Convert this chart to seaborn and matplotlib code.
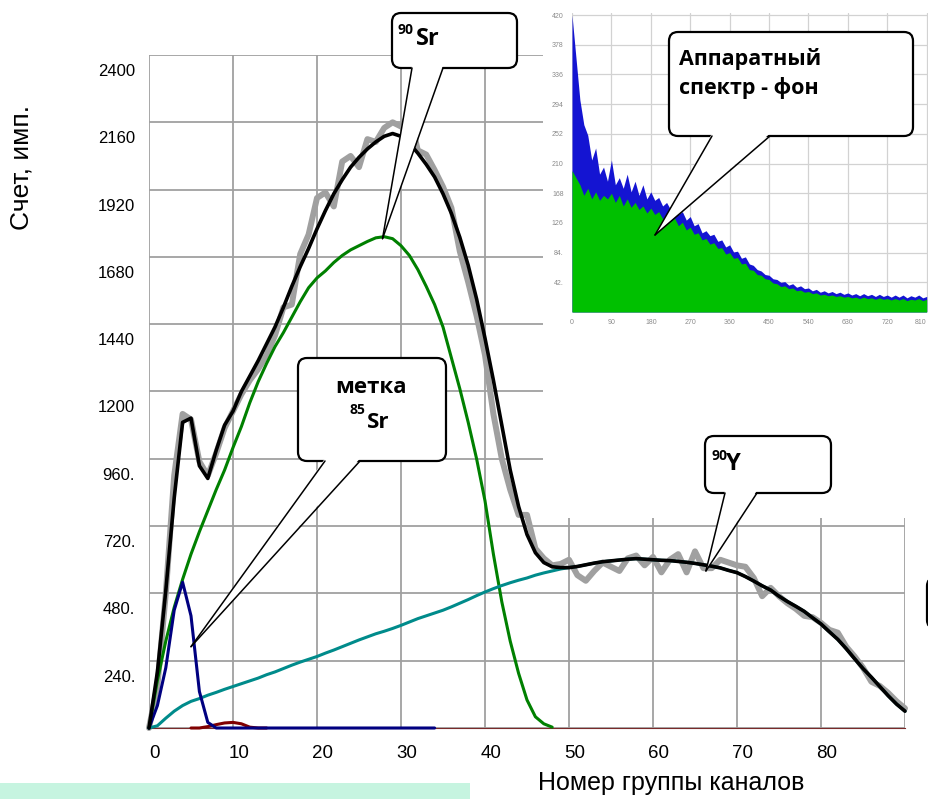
import matplotlib
matplotlib.use("Agg")
import matplotlib.pyplot as plt
import matplotlib.transforms as mtransforms
from matplotlib.patches import FancyBboxPatch, Rectangle, Polygon
from matplotlib.lines import Line2D
import seaborn as sns

W, H = 929, 799

# ---------------- data ----------------
channels = list(range(91))
measured = [0, 150, 480, 900, 1120, 1100, 950, 900, 980, 1070,
            1130, 1190, 1240, 1280, 1330, 1400, 1500, 1510, 1690, 1760,
            1890, 1910, 1860, 2020, 2040, 2000, 2100, 2090, 2140, 2160,
            2145, 2190, 2060, 2045, 1990, 1930, 1855, 1700, 1590, 1470,
            1330, 1120, 960, 850, 760, 760, 640, 605, 580, 585,
            600, 545, 525, 560, 590, 575, 560, 605, 615, 580,
            610, 555, 600, 620, 555, 630, 570, 570, 600, 590,
            580, 575, 535, 470, 500, 470, 445, 425, 400, 395,
            375, 350, 340, 290, 255, 215, 165, 150, 125, 95, 70]
fit_total = [0, 200, 490, 820, 1090, 1105, 935, 890, 990, 1080,
             1130, 1200, 1255, 1310, 1370, 1430, 1500, 1575, 1645, 1710,
             1780, 1845, 1905, 1955, 2000, 2035, 2065, 2090, 2110, 2120,
             2110, 2085, 2050, 2010, 1965, 1905, 1835, 1750, 1650, 1530,
             1390, 1240, 1080, 920, 790, 690, 625, 590, 575, 572,
             572, 576, 582, 588, 593, 596, 599, 602, 604, 602,
             600, 598, 597, 594, 591, 587, 582, 577, 571, 562,
             554, 540, 524, 507, 492, 470, 451, 434, 416, 393,
             371, 343, 316, 283, 247, 212, 181, 148, 115, 85, 60]
sr90_channels = list(range(49))
sr90 = [0, 170, 310, 430, 530, 620, 700, 775, 850, 920,
        1000, 1075, 1160, 1235, 1300, 1360, 1410, 1465, 1520, 1570,
        1605, 1630, 1660, 1685, 1705, 1720, 1735, 1748, 1752, 1745,
        1720, 1685, 1635, 1575, 1510, 1430, 1320, 1210, 1090, 960,
        810, 620, 450, 310, 195, 100, 40, 15, 3]
y90 = [0, 8, 35, 60, 80, 95, 105, 117, 127, 138,
       148, 158, 168, 178, 190, 200, 212, 224, 235, 245,
       255, 267, 278, 290, 302, 314, 325, 336, 345, 355,
       366, 378, 390, 400, 410, 420, 432, 445, 458, 472,
       485, 497, 508, 518, 527, 535, 545, 553, 560, 567,
       572, 576, 582, 588, 593, 596, 599, 602, 604, 602,
       600, 598, 597, 594, 591, 587, 582, 577, 571, 562,
       554, 540, 524, 507, 492, 470, 451, 434, 416, 393,
       371, 343, 316, 283, 247, 212, 181, 148, 115, 85, 60]
sr85_channels = list(range(35))
sr85 = [0, 80, 215, 420, 520, 400, 130, 20, 0, 0,
        0, 0, 0, 0, 0, 0, 0, 0, 0, 0,
        0, 0, 0, 0, 0, 0, 0, 0, 0, 0,
        0, 0, 0, 0, 0]
other_channels = list(range(5, 15))
other = [0, 0, 5, 12, 18, 20, 15, 3, 0, 0]

x_ticks = list(range(0, 91, 10))
x_tick_labels = ["0", "10", "20", "30", "40", "50", "60", "70", "80", ""]
y_ticks = list(range(0, 2401, 240))
y_tick_labels = ["", "240.", "480.", "720.", "960.", "1200", "1440",
                 "1680", "1920", "2160", "2400"]

# inset: hardware background spectrum
bg_channels = list(range(0, 811, 9))
bg_total = [420, 360, 300, 265, 250, 215, 232, 195, 205, 185,
            215, 180, 190, 175, 195, 170, 185, 165, 180, 160,
            170, 158, 162, 150, 155, 145, 148, 138, 142, 130,
            135, 122, 125, 112, 115, 108, 110, 100, 102, 92,
            95, 85, 86, 76, 78, 68, 66, 60, 58, 53,
            52, 47, 46, 42, 43, 38, 40, 35, 37, 33,
            34, 30, 32, 28, 30, 27, 29, 26, 28, 25,
            27, 24, 26, 23, 26, 23, 25, 22, 25, 22,
            24, 21, 24, 21, 24, 20, 23, 21, 24, 20, 22]
bg_net = [200, 190, 180, 165, 175, 160, 170, 158, 165, 160,
          168, 155, 165, 150, 160, 148, 155, 145, 150, 140,
          147, 138, 142, 132, 138, 128, 133, 122, 127, 116,
          120, 110, 112, 102, 104, 96, 98, 90, 91, 82,
          84, 76, 77, 68, 69, 60, 59, 53, 52, 47,
          46, 41, 40, 36, 37, 33, 34, 30, 31, 28,
          29, 26, 27, 24, 25, 23, 24, 22, 23, 21,
          22, 20, 21, 19, 21, 19, 20, 18, 20, 18,
          19, 17, 19, 17, 19, 16, 18, 17, 19, 16, 18]
bg_x_ticks = list(range(0, 811, 90))
bg_x_labels = ["0", "90", "180", "270", "360", "450", "540", "630", "720", "810"]
bg_y_ticks = list(range(42, 421, 42))
bg_y_labels = ["42.", "84.", "126", "168", "210", "252", "294", "336", "378", "420"]

# ---------------- style ----------------
sns.set_theme(style="white")
plt.rcParams['font.family'] = ['Liberation Sans', 'DejaVu Sans']
CALLOUT_FONT = ['Open Sans', 'DejaVu Sans']

fig = plt.figure(figsize=(W / 100, H / 100), dpi=100)
fig.patch.set_facecolor('white')
ident = mtransforms.IdentityTransform()

# main axes
ax = fig.add_axes([149 / W, 1 - 728 / H, (905 - 149) / W, (728 - 55) / H], zorder=0)
ax.set_facecolor('white')

sns.lineplot(x=channels, y=measured, ax=ax, color='#A0A0A0', lw=4.3,
             solid_joinstyle='round', clip_on=False, zorder=2)
sns.lineplot(x=sr90_channels, y=sr90, ax=ax, color='#008000', lw=2.2, clip_on=False, zorder=3)
sns.lineplot(x=channels, y=y90, ax=ax, color='#008B8B', lw=2.2, clip_on=False, zorder=3)
sns.lineplot(x=other_channels, y=other, ax=ax, color='#800000', lw=2.2, clip_on=False, zorder=3)
sns.lineplot(x=sr85_channels, y=sr85, ax=ax, color='#000080', lw=2.2, clip_on=False, zorder=4)
sns.lineplot(x=channels, y=fit_total, ax=ax, color='black', lw=2.6,
             solid_joinstyle='round', clip_on=False, zorder=5)

ax.set_xlim(0, 90)
ax.set_ylim(0, 2400)
ax.set_xticks(x_ticks)
ax.set_xticklabels(x_tick_labels)
ax.set_yticks(y_ticks)
ax.set_yticklabels(y_tick_labels)
ax.grid(True, color='#A0A0A0', lw=1.3)
ax.set_axisbelow(True)
for name, s in ax.spines.items():
    s.set_visible(name == 'bottom')
ax.spines['bottom'].set_color('#7A2A2A')
ax.spines['bottom'].set_linewidth(0.8)
ax.spines['bottom'].set_zorder(2.5)
ax.tick_params(axis='both', length=0)
ax.tick_params(axis='y', labelsize=12, pad=10, labelcolor='black')
ax.tick_params(axis='x', labelsize=13.5, pad=12, labelcolor='black')
for lbl in ax.get_yticklabels():
    lbl.set_transform(lbl.get_transform() +
                      mtransforms.ScaledTranslation(0, -15 / 100, fig.dpi_scale_trans))
for lbl in ax.get_xticklabels():
    lbl.set_transform(lbl.get_transform() +
                      mtransforms.ScaledTranslation(6 / 100, 0, fig.dpi_scale_trans))

ax.set_xlabel("Номер группы каналов", fontsize=18, color='black', va='center')
ax.xaxis.set_label_coords((671 - 149) / 756, (728 - 783) / 673)
ax.set_ylabel("Счет, имп.", fontsize=19, color='black', va='center', rotation=90)
ax.yaxis.set_label_coords((22 - 149) / 756, (728 - 168) / 673)

# white area behind the inset picture
fig.add_artist(Rectangle((543, H - 518), 420, 560, transform=ident,
                         fc='white', ec='none', zorder=1))

# inset: background spectrum
axi = fig.add_axes([572 / W, 1 - 312 / H, (935 - 572) / W, (312 - 13) / H], zorder=2)
axi.set_facecolor('white')
axi.fill_between(bg_channels, bg_total, color='#1414D2', lw=0, zorder=2)
axi.fill_between(bg_channels, bg_net, color='#00C000', lw=0, zorder=3)
axi.set_xlim(0, 829)
axi.set_ylim(0, 423)
axi.set_xticks(bg_x_ticks)
axi.set_xticklabels(bg_x_labels)
axi.set_yticks(bg_y_ticks)
axi.set_yticklabels(bg_y_labels)
axi.grid(True, color='#D2D2D2', lw=0.9)
axi.set_axisbelow(True)
for s in axi.spines.values():
    s.set_visible(False)
axi.tick_params(axis='both', length=0, labelsize=5, labelcolor='#8A8A8A')
axi.tick_params(axis='y', pad=6)
axi.tick_params(axis='x', pad=5)
axi.get_xticklabels()[-1].set_horizontalalignment('right')


# ---------------- callouts ----------------
def px(x, y):
    return (x, H - y)


def data_tip(cx, cv):
    dx, dy = ax.transData.transform((cx, cv))
    return (dx, H - dy)


def callout(x0, y0, x1, y1, bx0, bx1, tip, z=5):
    fig.add_artist(FancyBboxPatch(px(x0, y1), x1 - x0, y1 - y0,
                                  boxstyle="round,pad=0,rounding_size=9",
                                  fc='white', ec='black', lw=1.6,
                                  transform=ident, zorder=z))
    tx, ty = tip
    fig.add_artist(Polygon([px(bx0, y1 - 2.5), px(tx, ty), px(bx1, y1 - 2.5)],
                           closed=True, fc='white', ec='none',
                           transform=ident, zorder=z + 0.1))
    for bx in (bx0, bx1):
        fig.add_artist(Line2D([bx, tx], [H - y1, H - ty], color='black', lw=1.1,
                              transform=ident, zorder=z + 0.2))


def txt(x, y, s, size, ha='left', va='baseline'):
    fig.text(x, H - y, s, transform=ident, fontsize=size, fontweight='bold',
             family=CALLOUT_FONT, ha=ha, va=va, color='black', zorder=9)


fig.canvas.draw()

# 90Sr
callout(392, 13, 517, 68, 412, 443, data_tip(27.8, 1745))
txt(397, 34, "90", 10)
txt(416, 45, "Sr", 17)

# label 85Sr
callout(298, 358, 446, 461, 325, 360, data_tip(5.0, 290))
txt(371, 393, "метка", 16, ha='center')
txt(349, 414, "85", 10)
txt(367, 428, "Sr", 16)

# 90Y
callout(705, 436, 831, 493, 725, 757, data_tip(66.3, 560))
txt(711, 460, "90", 10)
txt(726, 470, "Y", 17)

# hardware background
callout(669, 32, 913, 136, 712, 770, (655, 235), z=6)
txt(679, 65, "Аппаратный", 15.5)
txt(679, 94, "спектр - фон", 15.5)

# partial box at right edge
fig.add_artist(FancyBboxPatch(px(927, 628), 60, 50,
                              boxstyle="round,pad=0,rounding_size=8",
                              fc='white', ec='black', lw=1.6,
                              transform=ident, zorder=5))

# light green strip at bottom-left
fig.add_artist(Rectangle(px(0, 799), 470, 16, transform=ident,
                         fc='#C6F4E0', ec='none', zorder=1))

fig.savefig("out.png", dpi=100, facecolor='white')
